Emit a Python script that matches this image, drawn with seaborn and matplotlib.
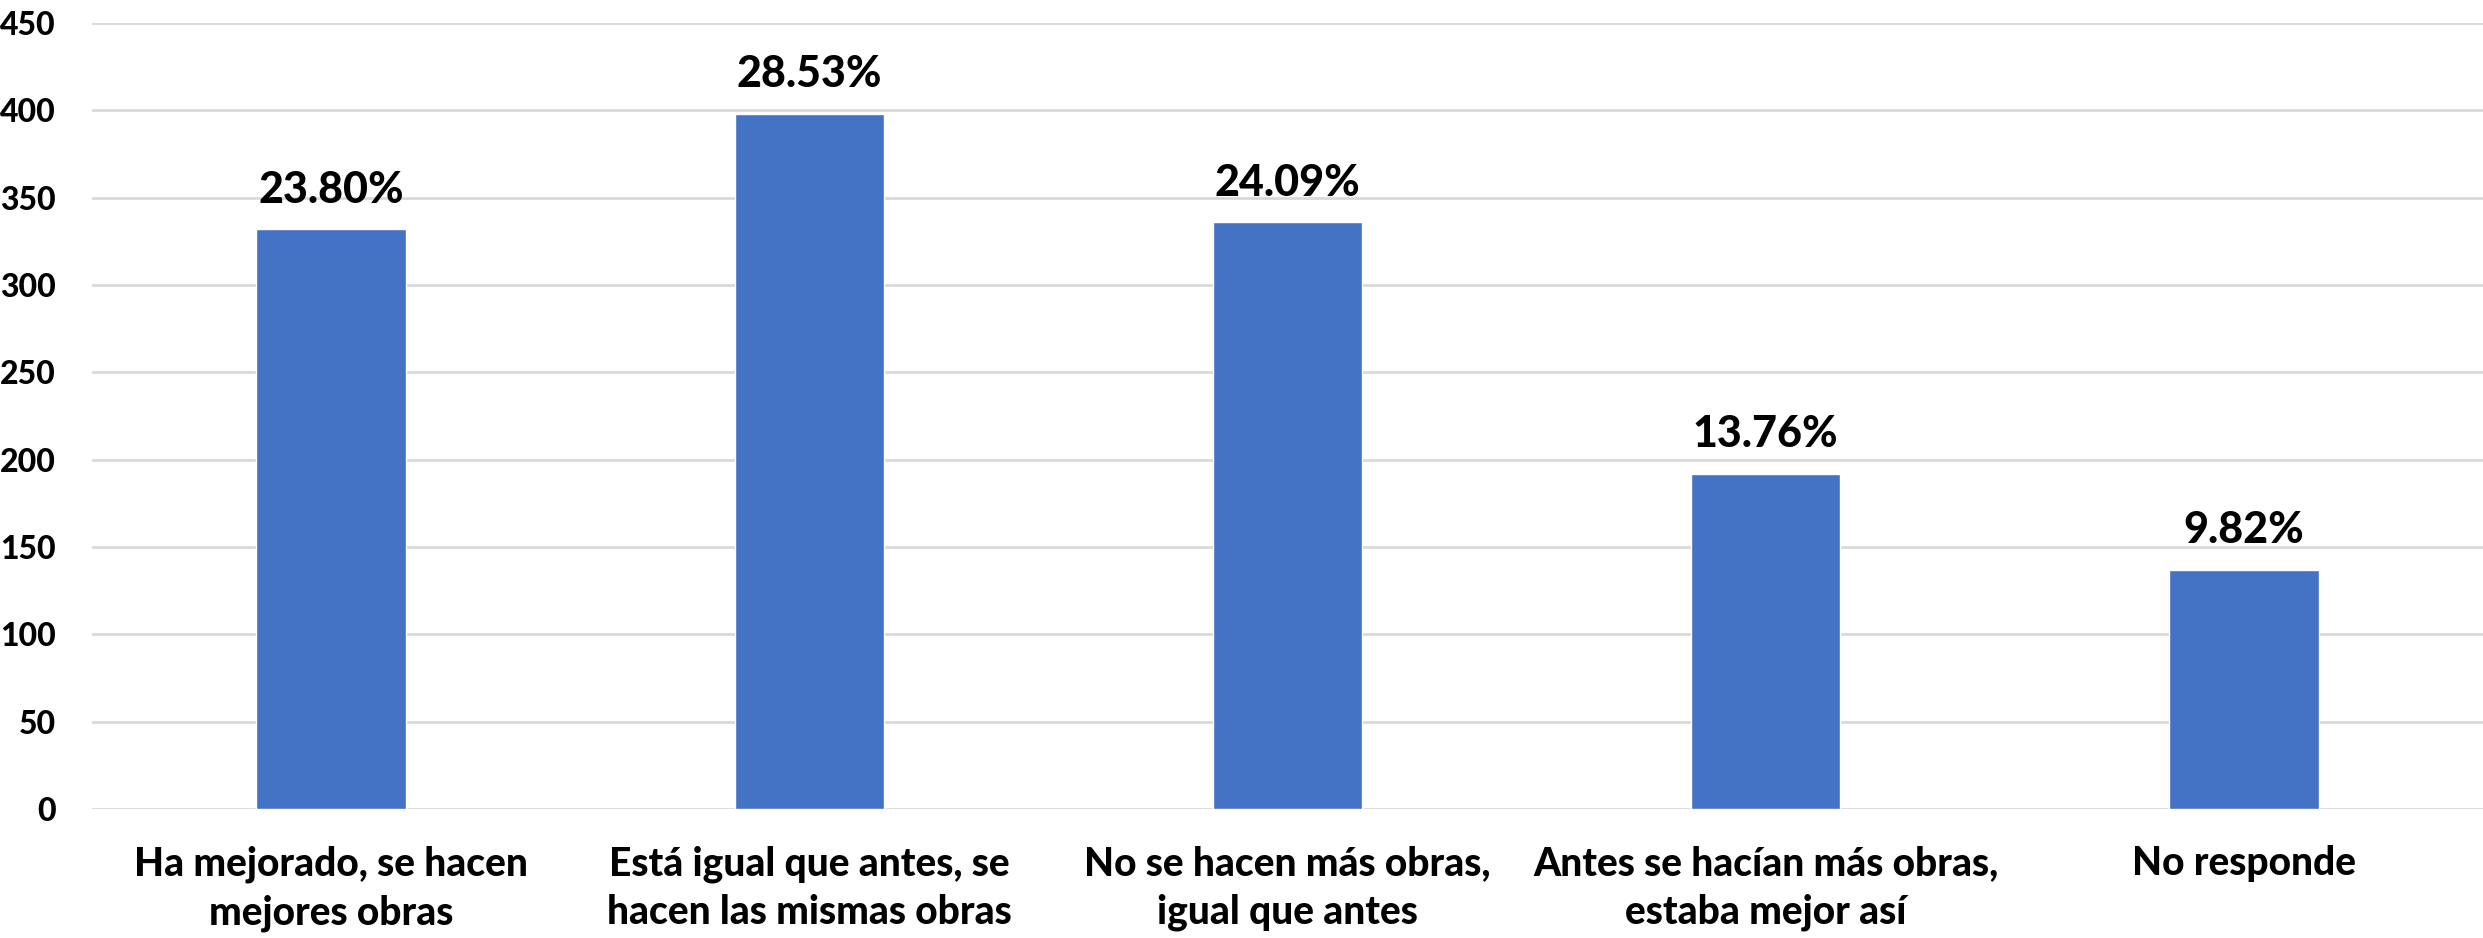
import matplotlib
matplotlib.use("Agg")
import matplotlib.pyplot as plt
import seaborn as sns
import pandas as pd

categories = [
    "Ha mejorado, se hacen\nmejores obras",
    "Está igual que antes, se\nhacen las mismas obras",
    "No se hacen más obras,\nigual que antes",
    "Antes se hacían más obras,\nestaba mejor así",
    "No responde",
]
counts = [332, 398, 336, 192, 137]
percent_labels = ["23.80%", "28.53%", "24.09%", "13.76%", "9.82%"]
y_ticks = [0, 50, 100, 150, 200, 250, 300, 350, 400, 450]

sns.set_theme(style="white")
plt.rcParams["font.family"] = ["Lato", "DejaVu Sans"]

df = pd.DataFrame({"cat": categories, "n": counts})

fig = plt.figure(figsize=(24.83, 9.38), dpi=100)
ax = fig.add_axes([92 / 2483, 129 / 938, (2483 - 92) / 2483, (809 - 23) / 938])

sns.barplot(data=df, x="cat", y="n", color="#4472C4", width=0.3125, ax=ax,
            saturation=1, zorder=3)

ax.set_ylim(0, 450)
ax.set_xlim(-0.5, 4.5)
ax.set_yticks(y_ticks)
ax.yaxis.grid(True, color="#d9d9d9", linewidth=2, zorder=0)
ax.set_axisbelow(True)
for s in ax.spines.values():
    s.set_visible(False)
ax.set_xlabel("")
ax.set_ylabel("")
ax.tick_params(axis="y", length=0, pad=26, labelsize=23)
ax.tick_params(axis="x", length=0, pad=26, labelsize=28)
for lab in ax.get_yticklabels() + ax.get_xticklabels():
    lab.set_fontweight("black")
    lab.set_color("black")
for lab in ax.get_xticklabels():
    lab.set_linespacing(1.38)

for cont in ax.containers:
    ax.bar_label(cont, labels=percent_labels, padding=14, fontsize=31,
                 fontweight="black", color="black")

fig.savefig("out.png", dpi=100)
